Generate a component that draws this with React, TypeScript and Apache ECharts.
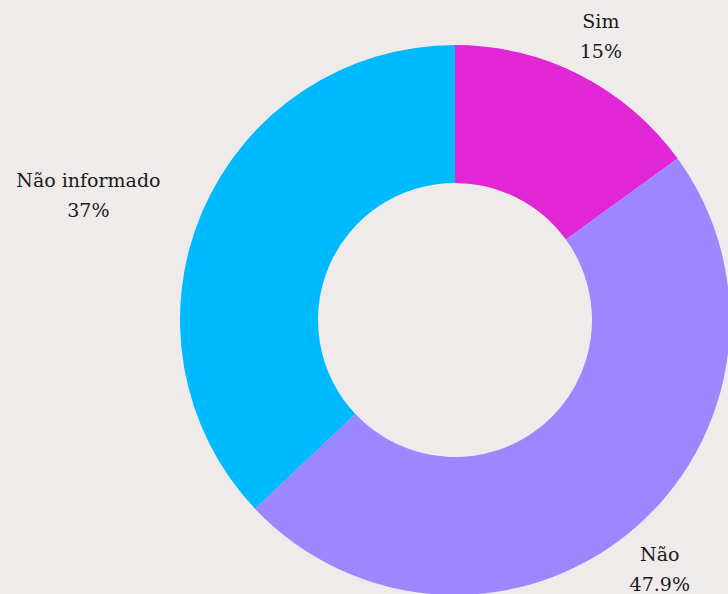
import React, { useEffect, useRef } from "react";
import * as echarts from "echarts";

const categories = ["Sim", "Não", "Não informado"];
const values = [15, 47.9, 37];
const colors = ["#e026d5", "#9d87ff", "#00baff"];

const CENTER: [number, number] = [455, 320];
const RADII: [number, number] = [137, 275];
const LABEL_R = 321;
const FONT = "DejaVu Serif";
const TEXT_COLOR = "#1a1a1a";

export default function App() {
  const ref = useRef<HTMLDivElement>(null);
  useEffect(() => {
    if (!ref.current) return;
    const chart = echarts.init(ref.current, undefined, { renderer: "svg" });
    const total = values.reduce((a, b) => a + b, 0);
    const midAngles: number[] = [];
    let cum = 0;
    values.forEach((v) => {
      const mid = cum + v / 2;
      midAngles.push(90 - (mid / total) * 360);
      cum += v;
    });
    const txt = { align: "center", fontFamily: FONT, fontSize: 19, color: TEXT_COLOR, lineHeight: 30 };
    chart.setOption({
      animation: false,
      backgroundColor: "#efebea",
      series: [
        {
          type: "pie",
          center: CENTER,
          radius: RADII,
          startAngle: 90,
          clockwise: true,
          silent: true,
          data: categories.map((name, i) => ({
            name,
            value: values[i],
            itemStyle: { color: colors[i] },
          })),
          labelLine: { show: false },
          label: {
            show: true,
            position: "outside",
            overflow: "none",
            edgeDistance: 0,
            formatter: "{n|{b}}\n{v|{c}%}",
            fontFamily: FONT,
            fontSize: 19,
            color: TEXT_COLOR,
            rich: { n: txt, v: txt },
          },
          labelLayout: (params: any) => {
            const a = (midAngles[params.dataIndex] * Math.PI) / 180;
            const cx = Math.cos(a);
            const x = CENTER[0] + LABEL_R * cx;
            const y = CENTER[1] - LABEL_R * Math.sin(a);
            let align = "center";
            if (cx < -0.8) align = "right";
            else if (cx > 0.8) align = "left";
            return { x, y: y + 2, align, verticalAlign: "middle" };
          },
        },
      ],
    });
    return () => chart.dispose();
  }, []);
  return (
    <div
      ref={ref}
      style={{ position: "absolute", left: 0, top: 0, width: 728, height: 594 }}
    />
  );
}
